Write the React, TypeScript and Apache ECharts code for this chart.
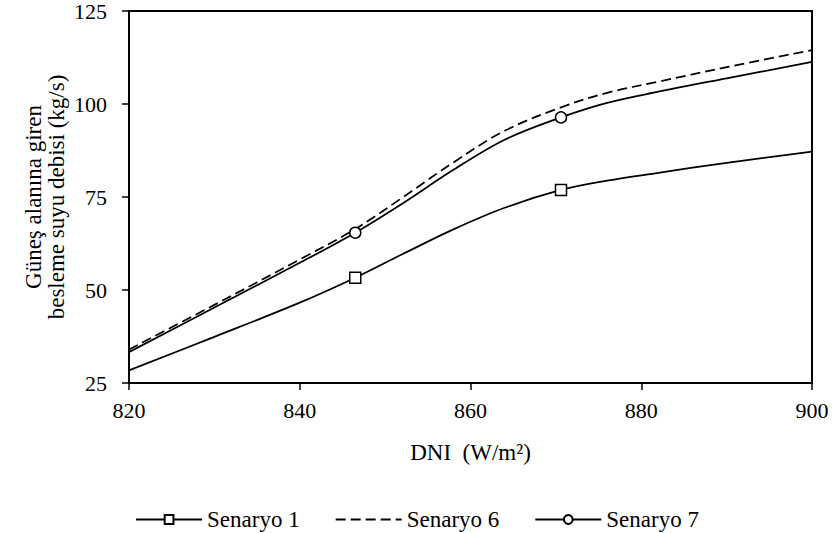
import React, { useEffect, useRef } from "react";
import * as echarts from "echarts";

// DNI (W/m²) sample positions along the curves
const dni = [820, 830, 840, 846.5, 852, 858, 864, 870.6, 876, 882, 890, 900];
// Feed-water flow entering the solar field (kg/s)
const senaryo1 = [28.4, 37.4, 46.6, 53.3, 59.6, 66.3, 72.1, 76.9, 79.4, 81.5, 84.2, 87.2];
const senaryo6 = [34.0, 46.0, 58.2, 66.4, 74.8, 84.3, 92.8, 99.1, 103.0, 106.0, 109.9, 114.5];
const senaryo7 = [33.3, 45.3, 57.3, 65.4, 73.2, 82.3, 90.4, 96.4, 100.3, 103.3, 106.9, 111.3];
// DNI values where the markers are drawn
const markerDni = [846.5, 870.6];

const seriesNames = ["Senaryo 1", "Senaryo 6", "Senaryo 7"];
const xTicks = { min: 820, max: 900, interval: 20 };
const yTicks = { min: 25, max: 125, interval: 25 };
const xTitle = "DNI  (W/m²)";
const yTitle = "Güneş alanına giren\nbesleme suyu debisi (kg/s)";

const FONT = "Liberation Serif";

function buildData(values: number[], withMarkers: boolean) {
  return dni.map((x, i) => {
    const item: any = { value: [x, values[i]] };
    if (!withMarkers || !markerDni.includes(x)) item.symbol = "none";
    return item;
  });
}

export default function App() {
  const ref = useRef<HTMLDivElement>(null);

  useEffect(() => {
    if (!ref.current) return;
    const chart = echarts.init(ref.current, null, { renderer: "svg" });
    const axisCommon = {
      type: "value" as const,
      axisLine: { show: true, lineStyle: { color: "#000", width: 2 } },
      axisTick: { show: true, inside: false, length: 7, lineStyle: { color: "#000", width: 1.5 } },
      splitLine: { show: false },
      nameLocation: "middle" as const,
      nameMoveOverlap: false,
    };
    const lineBase = {
      type: "line" as const,
      smooth: 0.35,
      symbolSize: 11,
      showSymbol: true,
      silent: true,
      emphasis: { disabled: true },
      itemStyle: { color: "#fff", borderColor: "#000", borderWidth: 1.5 },
    };
    chart.setOption({
      animation: false,
      backgroundColor: "#fff",
      textStyle: { fontFamily: FONT, color: "#000" },
      grid: {
        left: 129,
        right: 22,
        top: 10,
        bottom: 150,
        show: true,
        borderColor: "#000",
        borderWidth: 2,
      },
      legend: {
        data: seriesNames,
        top: 503,
        left: "center",
        itemWidth: 66,
        itemHeight: 11,
        itemGap: 35,
        textStyle: { fontFamily: FONT, fontSize: 23, color: "#000" },
      },
      xAxis: {
        ...axisCommon,
        min: xTicks.min,
        max: xTicks.max,
        interval: xTicks.interval,
        axisLabel: { margin: 16, fontSize: 22, color: "#000", fontFamily: FONT },
        name: xTitle,
        nameGap: 58,
        nameTextStyle: { fontSize: 23, color: "#000", fontFamily: FONT },
      },
      yAxis: {
        ...axisCommon,
        min: yTicks.min,
        max: yTicks.max,
        interval: yTicks.interval,
        axisLabel: { margin: 22, fontSize: 22, color: "#000", fontFamily: FONT },
        name: yTitle,
        nameRotate: 90,
        nameGap: 61,
        nameTextStyle: { fontSize: 23, lineHeight: 23, color: "#000", fontFamily: FONT, align: "center" },
      },
      series: [
        {
          ...lineBase,
          name: seriesNames[0],
          symbol: "rect",
          lineStyle: { color: "#000", width: 1.75 },
          data: buildData(senaryo1, true),
          z: 3,
        },
        {
          ...lineBase,
          name: seriesNames[1],
          symbol: "circle",
          itemStyle: { color: "rgba(0,0,0,0)", borderColor: "rgba(0,0,0,0)", borderWidth: 0 },
          lineStyle: { color: "#000", width: 1.75, type: [10, 5] },
          data: buildData(senaryo6, false),
          z: 2,
        },
        {
          ...lineBase,
          name: seriesNames[2],
          symbol: "circle",
          lineStyle: { color: "#000", width: 1.75 },
          data: buildData(senaryo7, true),
          z: 4,
        },
      ],
    });
    return () => chart.dispose();
  }, []);

  return (
    <div
      ref={ref}
      style={{ position: "fixed", left: 0, top: 0, width: 834, height: 533, background: "#fff" }}
    />
  );
}
